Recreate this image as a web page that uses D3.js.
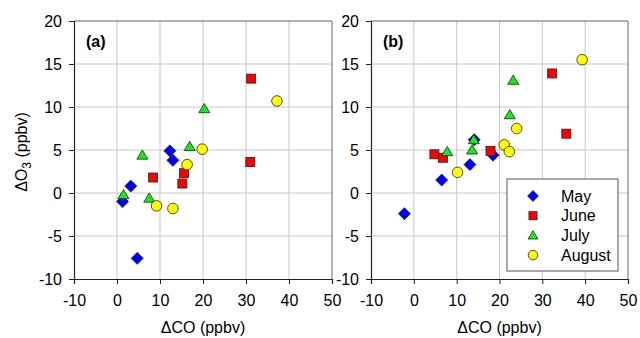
<!DOCTYPE html>
<html lang="en">
<head>
<meta charset="UTF-8">
<title>dO3 vs dCO</title>
<script src="https://d3js.org/d3.v7.min.js"></script>
<style>
  body { margin: 0; background: #fff; }
  text { font-family: "Liberation Sans", Arial, sans-serif; fill: #000; }
</style>
</head>
<body>
<svg id="svg" width="640" height="338"></svg>
<script>
  // months / series
  const months = ["May", "June", "July", "August"];
  const colors = ["#0000ff", "#ff0000", "#11ee11", "#ffff00"];
  const shapes = ["diamond", "square", "triangle", "circle"];

  // panel (a): [dCO, dO3]
  const mayA = [[1.3, -1.0], [3.2, 0.8], [12.3, 4.9], [13.0, 3.8], [4.7, -7.6]];
  const juneA = [[31.2, 13.3], [31.0, 3.6], [8.4, 1.8], [15.6, 2.3], [15.2, 1.1]];
  const julyA = [[20.3, 9.8], [16.9, 5.4], [5.9, 4.4], [7.5, -0.6], [1.5, -0.2]];
  const augA = [[37.2, 10.7], [19.8, 5.1], [16.3, 3.3], [9.2, -1.5], [13.0, -1.8]];

  // panel (b)
  const mayB = [[-2.2, -2.4], [6.5, 1.5], [13.1, 3.3], [14.1, 6.2], [18.5, 4.4]];
  const juneB = [[4.8, 4.5], [6.8, 4.1], [17.9, 4.9], [32.3, 13.9], [35.6, 6.9]];
  const julyB = [[7.8, 4.8], [13.6, 5.0], [14.0, 6.2], [22.4, 9.1], [23.2, 13.1]];
  const augB = [[10.2, 2.4], [21.1, 5.6], [22.3, 4.8], [24.0, 7.5], [39.3, 15.5]];

  const xTicks = [-10, 0, 10, 20, 30, 40, 50];
  const yTicks = [-10, -5, 0, 5, 10, 15, 20];

  const svg = d3.select("#svg");

  function marker(g, shape, color, s) {
    let el;
    if (shape === "circle") {
      el = g.append("circle").attr("r", s * 0.53);
    } else if (shape === "square") {
      el = g.append("rect").attr("x", -s * 0.45).attr("y", -s * 0.45)
        .attr("width", s * 0.9).attr("height", s * 0.9);
    } else if (shape === "diamond") {
      const h = s * 0.6;
      el = g.append("path").attr("d", `M0,${-h}L${h},0L0,${h}L${-h},0Z`);
    } else {
      const h = s * 0.5;
      el = g.append("path").attr("d", `M0,${-h * 1.05}L${h * 1.1},${h * 0.8}L${-h * 1.1},${h * 0.8}Z`);
    }
    el.attr("fill", color).attr("stroke", "#222").attr("stroke-width", 0.8);
  }

  function panel(left, right, label, series, withYTitle) {
    const x = d3.scaleLinear().domain([-10, 50]).range([left, right]);
    const y = d3.scaleLinear().domain([-10, 20]).range([279, 21]);
    const g = svg.append("g");

    // grid
    g.append("g").selectAll("line").data(xTicks.slice(1, -1)).join("line")
      .attr("x1", d => x(d)).attr("x2", d => x(d)).attr("y1", y(-10)).attr("y2", y(20))
      .attr("stroke", "#c8c8c8").attr("stroke-width", 1);
    g.append("g").selectAll("line").data(yTicks.slice(1, -1)).join("line")
      .attr("y1", d => y(d)).attr("y2", d => y(d)).attr("x1", x(-10)).attr("x2", x(50))
      .attr("stroke", "#c8c8c8").attr("stroke-width", 1);

    // frame (top/right)
    g.append("path")
      .attr("d", `M${x(-10)},${y(20)}H${x(50)}V${y(-10)}`)
      .attr("fill", "none").attr("stroke", "#666").attr("stroke-width", 1);

    const xAxis = g.append("g").attr("transform", `translate(0,${y(-10)})`)
      .call(d3.axisBottom(x).tickValues(xTicks).tickFormat(d => String(d)).tickSize(5).tickPadding(11));
    const yAxis = g.append("g").attr("transform", `translate(${x(-10)},0)`)
      .call(d3.axisLeft(y).tickValues(yTicks).tickFormat(d => String(d)).tickSize(5).tickPadding(7));
    [xAxis, yAxis].forEach(a => {
      a.select(".domain").attr("stroke", "#222").attr("stroke-width", 1.2);
      a.selectAll(".tick line").attr("stroke", "#222");
      a.selectAll("text").style("font-size", "16px").style("font-family", "Liberation Sans, Arial, sans-serif");
    });

    // points
    series.forEach((pts, i) => {
      pts.forEach(p => {
        const m = g.append("g").attr("transform", `translate(${x(p[0])},${y(p[1])})`);
        marker(m, shapes[i], colors[i], 10);
      });
    });

    g.append("text").attr("x", x(-10) + 12).attr("y", 47)
      .style("font-size", "16px").style("font-weight", "bold").text(label);

    g.append("text").attr("x", (left + right) / 2).attr("y", 333)
      .attr("text-anchor", "middle").style("font-size", "16px").text("\u0394CO (ppbv)");

    if (withYTitle) {
      const t = g.append("text").attr("transform", `translate(27,${(y(-10) + y(20)) / 2 + 2}) rotate(-90)`)
        .attr("text-anchor", "middle").style("font-size", "16px");
      t.append("tspan").text("\u0394O");
      t.append("tspan").attr("dy", 4).style("font-size", "12px").text("3");
      t.append("tspan").attr("dy", -4).text(" (ppbv)");
    }
  }

  panel(74, 332, "(a)", [mayA, juneA, julyA, augA], true);
  panel(371, 628, "(b)", [mayB, juneB, julyB, augB], false);

  // legend
  const lg = svg.append("g").attr("transform", "translate(507,179)");
  lg.append("rect").attr("width", 111).attr("height", 92)
    .attr("fill", "#fff").attr("stroke", "#555").attr("stroke-width", 1);
  months.forEach((m, i) => {
    const row = lg.append("g").attr("transform", `translate(26,${17 + i * 19.7})`);
    marker(row, shapes[i], colors[i], 9);
    row.append("text").attr("x", 28).attr("y", 5.5).style("font-size", "16px").text(m);
  });
</script>
</body>
</html>
